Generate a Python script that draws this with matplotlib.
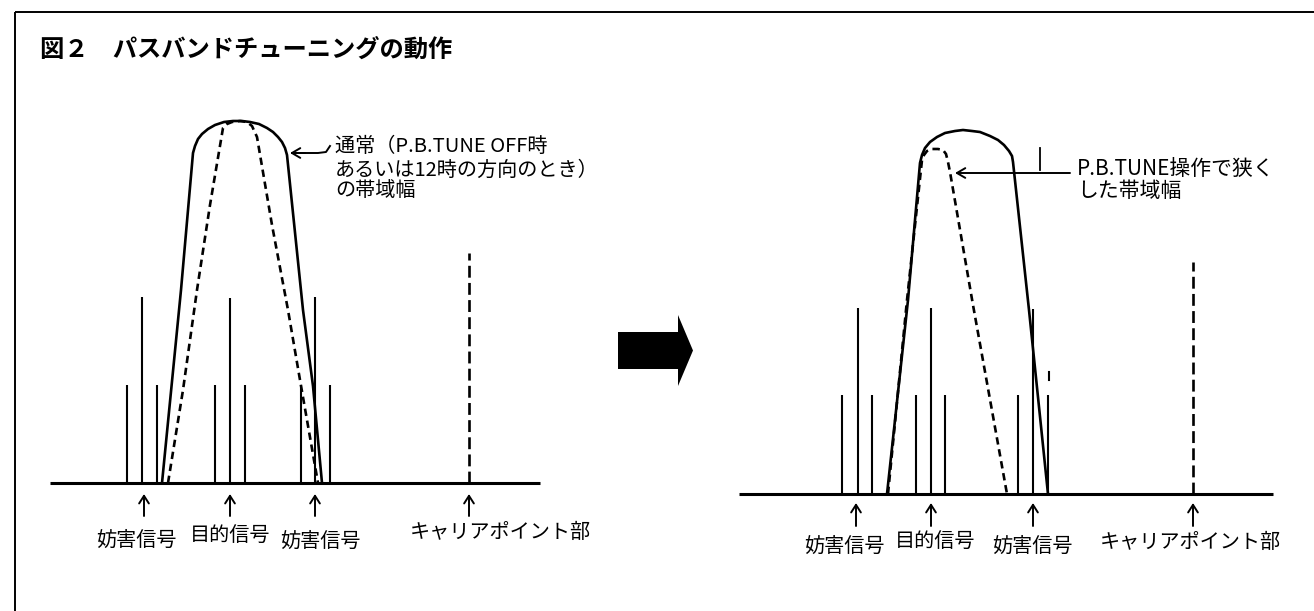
import matplotlib
matplotlib.use("Agg")
import matplotlib.pyplot as plt
from matplotlib.patches import FancyArrow

plt.rcParams['font.family'] = ['Noto Sans CJK JP', 'DejaVu Sans']

# ---------------- data (pixel-like diagram coordinates) ----------------
title = "図２　パスバンドチューニングの動作"

# left panel
L_base_y = 483
L_base_x = [50, 540]
L_sig_x = [127, 142, 157, 215, 230, 245, 301, 315, 330]
L_sig_top = [385, 297, 385, 385, 298, 385, 385, 297, 385]
L_carrier_x = 469
L_carrier_top = 253
L_solid_x = [162, 181, 193, 195, 198, 202, 208, 215, 224, 233, 242, 250, 259,
             267, 273, 278, 282, 285, 287, 303, 313, 322]
L_solid_y = [483, 290, 153, 146, 139, 134, 129, 125, 122, 121, 121, 122, 124,
             128, 132, 137, 142, 148, 155, 310, 386, 483]
L_dash_x = [168, 183, 197, 210, 223, 227, 232, 240, 247, 252, 257, 272, 288, 300, 318]
L_dash_y = [483, 390, 290, 205, 128, 124, 122, 121, 122, 126, 137, 225, 310, 380, 483]
L_arrow_x = [144, 230, 315, 469]
L_arrow_y = [516, 494]
L_labels = ["妨害信号", "目的信号", "妨害信号", "キャリアポイント部"]
L_label_x = [136, 230, 320, 500]
L_label_y = [540, 535, 541, 532]
L_note = ["通常（P.B.TUNE OFF時", "あるいは12時の方向のとき）", "の帯域幅"]
L_note_x = 335
L_note_y = [146, 170, 191]

# right panel
R_base_y = 494
R_base_x = [739, 1273]
R_sig_x = [842, 858, 872, 916, 931, 945, 1018, 1033, 1048]
R_sig_top = [395, 308, 395, 395, 308, 395, 395, 309, 395]
R_carrier_x = 1193
R_carrier_top = 262
R_solid_x = [887, 908, 920, 922, 925, 930, 937, 945, 955, 963, 972, 980, 990,
             998, 1004, 1009, 1012, 1013, 1029, 1048]
R_solid_y = [494, 300, 163, 155, 148, 142, 137, 133, 131, 130, 131, 132, 136,
             140, 145, 151, 156, 162, 310, 494]
R_dash_x = [888, 907, 922, 924, 927, 931, 938, 943, 946, 948, 950, 973, 1007]
R_dash_y = [494, 300, 160, 155, 151, 149, 149, 150, 154, 162, 172, 305, 494]
R_arrow_x = [856, 931, 1033, 1193]
R_arrow_y = [526, 503]
R_labels = ["妨害信号", "目的信号", "妨害信号", "キャリアポイント部"]
R_label_x = [844, 935, 1032, 1190]
R_label_y = [546, 541, 546, 542]
R_note = ["P.B.TUNE操作で狭く", "した帯域幅"]
R_note_x = 1077
R_note_y = [169, 191]

# ---------------- figure ----------------
W, H = 1314, 611
fig = plt.figure(figsize=(W / 100, H / 100), dpi=100)
ax = fig.add_axes([0, 0, 1, 1])
ax.set_xlim(0, W)
ax.set_ylim(H, 0)
ax.axis('off')

K = 'black'

# frame (left and top only)
ax.plot([15, 15], [H, 12], color=K, lw=1.4, solid_capstyle='butt')
ax.plot([15, W], [12, 12], color=K, lw=1.4, solid_capstyle='butt')

ax.text(40, 50, title, fontsize=17.5, fontweight='bold', va='center', ha='left', color=K)


def panel(base_x, base_y, sig_x, sig_top, cx, ctop, sx, sy, dx, dy,
          arr_x, arr_y, labels, lx, ly):
    ax.plot(base_x, [base_y, base_y], color=K, lw=2.2, solid_capstyle='butt')
    for x, t in zip(sig_x, sig_top):
        ax.plot([x, x], [base_y, t], color=K, lw=1.5, solid_capstyle='butt')
    ax.plot([cx, cx], [base_y, ctop], color=K, lw=1.9, dashes=(4.5, 2))
    ax.plot(sx, sy, color=K, lw=1.9, solid_joinstyle='round')
    ax.plot(dx, dy, color=K, lw=1.9, dashes=(2.8, 1.8))
    for x in arr_x:
        ax.annotate('', xy=(x, arr_y[1]), xytext=(x, arr_y[0]),
                    arrowprops=dict(arrowstyle='->,head_length=0.55,head_width=0.35',
                                    lw=1.4, color=K, shrinkA=0, shrinkB=0))
    for s, x, y in zip(labels, lx, ly):
        ax.text(x, y, s, fontsize=14.5, ha='center', va='center', color=K)


panel(L_base_x, L_base_y, L_sig_x, L_sig_top, L_carrier_x, L_carrier_top,
      L_solid_x, L_solid_y, L_dash_x, L_dash_y, L_arrow_x, L_arrow_y,
      L_labels, L_label_x, L_label_y)
panel(R_base_x, R_base_y, R_sig_x, R_sig_top, R_carrier_x, R_carrier_top,
      R_solid_x, R_solid_y, R_dash_x, R_dash_y, R_arrow_x, R_arrow_y,
      R_labels, R_label_x, R_label_y)

# notes
for s, y in zip(L_note, L_note_y):
    ax.text(L_note_x, y, s, fontsize=14.5, ha='left', va='center', color=K)
for s, y in zip(R_note, R_note_y):
    ax.text(R_note_x, y, s, fontsize=15, ha='left', va='center', color=K)

# left note pointer (hooked line with open head)
ax.plot([330, 326, 318, 292], [146, 152, 153, 153], color=K, lw=1.4)
ax.annotate('', xy=(290, 153), xytext=(305, 153),
            arrowprops=dict(arrowstyle='->,head_length=0.6,head_width=0.35',
                            lw=1.4, color=K, shrinkA=0, shrinkB=0))
# right note pointer
ax.annotate('', xy=(955, 173), xytext=(1070, 173),
            arrowprops=dict(arrowstyle='->,head_length=0.6,head_width=0.35',
                            lw=1.4, color=K, shrinkA=0, shrinkB=0))
# small stray strokes in the right panel
ax.plot([1040, 1040], [148, 170], color=K, lw=1.3)
ax.plot([1049, 1049], [372, 380], color=K, lw=1.5)

# big transition arrow
arrow_x0, arrow_len, arrow_y = 618, 75, 350.5
ax.add_patch(FancyArrow(arrow_x0, arrow_y, arrow_len, 0, width=37, head_width=71,
                        head_length=15, length_includes_head=True,
                        color=K, lw=0))

fig.savefig("out.png", dpi=100, facecolor='white')
